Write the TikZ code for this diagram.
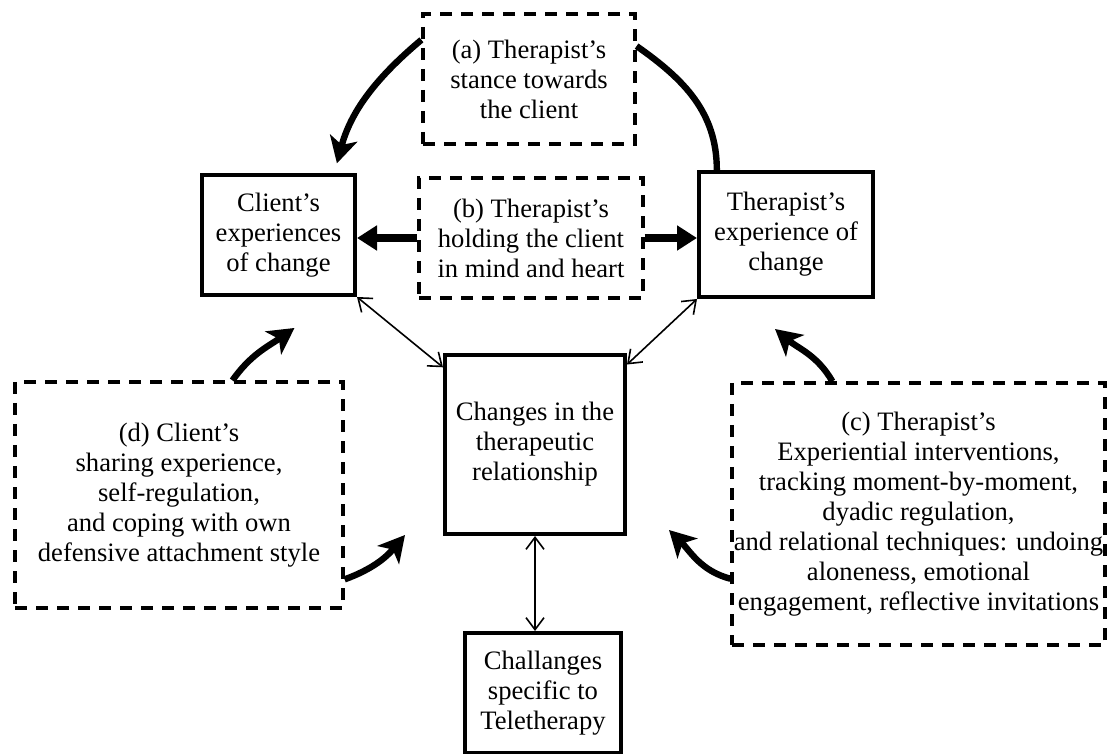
\documentclass[tikz,border=0pt]{standalone}
\usepackage{fontspec}
\setmainfont{Liberation Serif}
\usetikzlibrary{arrows.meta,calc}
\begin{document}
\begin{tikzpicture}[x=0.5pt,y=-0.5pt,font=\fontsize{13.3}{15}\selectfont]
        \tikzset{box/.style={draw, line width=2pt, align=center, inner sep=0pt},
          dbox/.style={box, line width=1.6pt, dash pattern=on 6pt off 4.5pt},
          fatarrow/.style={line width=3.2pt, -{Stealth[length=13pt,width=14pt,inset=3.5pt]}},
          blockarrow/.style={line width=4pt, -{Triangle[length=10pt,width=12pt]}},
          twoway/.style={line width=0.8pt, {Straight Barb[length=6pt,width=9pt]}-{Straight Barb[length=6pt,width=9pt]}}}
        \useasboundingbox (0,0) rectangle (1115,754);
        \node[dbox, minimum width=106pt, minimum height=65pt] (stance) at (529,79) {(a) Therapist's\\stance towards\\the client};
        \node[dbox, minimum width=112pt, minimum height=60pt] (holding) at (531,238) {(b) Therapist's\\holding the client\\in mind and heart};
        \node[box, minimum width=76.5pt, minimum height=60pt] (client) at (278.5,235) {Client's\\experiences\\of change};
        \node[box, minimum width=87pt, minimum height=62.5pt] (ther) at (786,234.5) {Therapist's\\experience of\\change};
        \node[box, minimum width=90pt, minimum height=89.5pt] (changes) at (535,444.5) {Changes in the\\therapeutic\\relationship};
        \node[box, minimum width=78pt, minimum height=60pt] (tele) at (543,693) {Challanges\\specific to\\Teletherapy};
        \node[dbox, minimum width=164pt, minimum height=113pt] (sharing) at (179,495) {(d) Client's\\sharing experience,\\self-regulation,\\and coping with own\\defensive attachment style};
        \node[dbox, minimum width=186.5pt, minimum height=131pt] (interv) at (918.5,514) {(c) Therapist's\\Experiential interventions,\\tracking moment-by-moment,\\dyadic regulation,\\and relational techniques: undoing\\aloneness, emotional\\engagement, reflective invitations};
        \draw[fatarrow, shorten >=5pt] (stance.160) to[out=220,in=75] (client.48);
        \draw[line width=3.2pt] (stance.17) to[out=-35,in=90] (ther.137);
        \draw[blockarrow] (holding.west) -- (holding.west -| client.east);
        \draw[blockarrow] (holding.east) -- (holding.east -| ther.west);
        \draw[twoway] (client.south east) -- (changes.140);
        \draw[twoway] (ther.south west) -- (changes.41);
        \draw[twoway] (changes.south) -- (changes.south |- tele.north);
        \draw[fatarrow] (sharing.65) to[out=55,in=215] ($(client.south)+(16,31)$);
        \draw[fatarrow] (sharing.-27) to[out=20,in=230] ($(changes.south west)+(-38,-1)$);
        \draw[fatarrow] (interv.199) to[out=165,in=-45] ($(changes.south east)+(42,-6)$);
        \draw[fatarrow] (interv.123) to[out=120,in=-40] ($(ther.south)+(-11,30)$);
    \end{tikzpicture}
\end{document}
